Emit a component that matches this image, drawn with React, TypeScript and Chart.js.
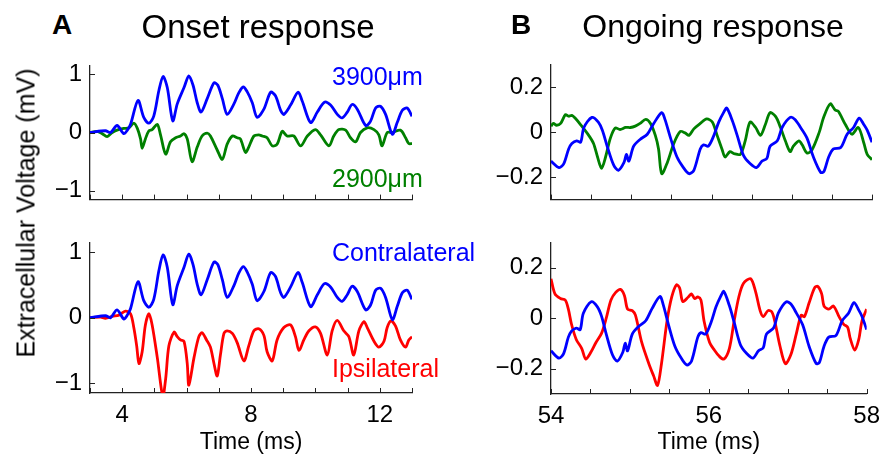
import React, { useEffect, useRef } from 'react';
import { Chart, registerables } from 'chart.js';

Chart.register(...registerables);

type Pt = [number, number];

// ---------- DATA ----------
// Onset response (time in ms, voltage in mV)
const onsetContralateral: Pt[] = [
  [3.0, 0.0], [3.48, 0.03], [3.64, 0.0], [3.84, 0.12], [4.05, -0.02], [4.16, 0.04], [4.26, 0.14],
  [4.49, 0.55], [4.67, 0.26], [4.83, 0.16], [4.98, 0.28], [5.14, 0.72], [5.27, 0.96], [5.40, 0.77],
  [5.57, 0.2], [5.71, 0.49], [5.92, 0.77], [6.07, 0.97], [6.20, 0.81], [6.33, 0.51], [6.45, 0.35],
  [6.64, 0.58], [6.85, 0.85], [6.97, 0.81], [7.11, 0.58], [7.26, 0.31], [7.47, 0.49], [7.62, 0.68],
  [7.76, 0.78], [7.88, 0.70], [8.04, 0.51], [8.19, 0.26], [8.40, 0.40], [8.61, 0.69], [8.76, 0.63],
  [8.92, 0.38], [9.02, 0.31], [9.23, 0.47], [9.46, 0.69], [9.59, 0.54], [9.85, 0.17], [10.06, 0.35],
  [10.28, 0.52], [10.47, 0.47], [10.68, 0.31], [10.83, 0.25], [10.99, 0.35], [11.14, 0.48],
  [11.30, 0.40], [11.56, 0.12], [11.71, 0.19], [11.87, 0.42], [12.02, 0.45], [12.18, 0.31],
  [12.39, -0.03], [12.54, 0.17], [12.70, 0.38], [12.85, 0.42], [13.0, 0.28],
];

const onset2900: Pt[] = [
  [3.0, 0.0], [3.22, 0.02], [3.38, -0.02], [3.53, -0.07], [3.69, 0.0], [3.84, 0.04], [4.05, 0.07],
  [4.21, 0.08], [4.36, 0.16], [4.47, 0.07], [4.57, -0.11], [4.62, -0.27], [4.72, -0.11], [4.83, 0.03],
  [4.93, 0.05], [5.09, 0.14], [5.19, -0.04], [5.35, -0.37], [5.50, -0.16], [5.66, -0.09], [5.81, -0.06],
  [5.92, -0.02], [6.02, -0.11], [6.17, -0.50], [6.33, -0.25], [6.48, -0.06], [6.64, -0.01], [6.74, -0.06],
  [6.95, -0.30], [7.11, -0.46], [7.26, -0.20], [7.42, -0.06], [7.57, -0.09], [7.67, -0.11], [7.83, -0.34],
  [7.93, -0.25], [8.09, -0.06], [8.24, -0.04], [8.35, -0.06], [8.50, -0.09], [8.66, -0.23], [8.81, -0.20],
  [8.97, 0.02], [9.12, -0.06], [9.33, -0.06], [9.54, -0.23], [9.75, -0.06], [10.0, 0.05], [10.16, -0.04],
  [10.42, -0.23], [10.57, -0.06], [10.73, 0.05], [10.94, 0.04], [11.09, -0.09], [11.25, -0.16],
  [11.40, 0.0], [11.61, 0.08], [11.82, 0.05], [11.97, -0.04], [12.07, -0.23], [12.23, 0.0], [12.39, 0.0],
  [12.64, 0.04], [12.80, -0.09], [12.90, -0.19], [13.0, -0.19],
];

const onsetIpsilateral: Pt[] = [
  [3.0, 0.0], [3.33, 0.01], [3.48, -0.01], [3.69, 0.02], [3.90, 0.04], [4.10, 0.10], [4.26, 0.06],
  [4.36, -0.15], [4.45, -0.43], [4.52, -0.70], [4.62, -0.52], [4.72, -0.11], [4.83, 0.06], [4.93, -0.11],
  [5.09, -0.61], [5.26, -1.2], [5.35, -0.93], [5.45, -0.43], [5.61, -0.22], [5.71, -0.29], [5.81, -0.34],
  [5.92, -0.36], [6.02, -0.70], [6.07, -1.03], [6.23, -0.61], [6.38, -0.29], [6.48, -0.23], [6.62, -0.34],
  [6.74, -0.45], [6.85, -0.70], [6.95, -0.89], [7.05, -0.57], [7.16, -0.24], [7.26, -0.20], [7.42, -0.24],
  [7.57, -0.38], [7.78, -0.66], [7.93, -0.43], [8.09, -0.20], [8.24, -0.17], [8.40, -0.27], [8.50, -0.52],
  [8.66, -0.66], [8.81, -0.34], [9.02, -0.15], [9.23, -0.11], [9.38, -0.29], [9.49, -0.50], [9.64, -0.34],
  [9.80, -0.20], [10.0, -0.14], [10.16, -0.24], [10.37, -0.57], [10.52, -0.20], [10.68, -0.04],
  [10.88, -0.20], [11.04, -0.29], [11.19, -0.57], [11.35, -0.20], [11.51, -0.06], [11.61, -0.15],
  [11.82, -0.36], [11.97, -0.45], [12.13, -0.36], [12.23, -0.15], [12.35, -0.05], [12.49, -0.13],
  [12.64, -0.34], [12.80, -0.45], [12.90, -0.34], [13.0, -0.29],
];

// Ongoing response
const ongoingContralateral: Pt[] = [
  [54.0, -0.129], [54.10, -0.158], [54.16, -0.140], [54.22, -0.075], [54.26, -0.051], [54.32, -0.039],
  [54.37, -0.045], [54.41, 0.020], [54.51, 0.065], [54.59, 0.044], [54.64, 0.008], [54.70, -0.063],
  [54.78, -0.146], [54.84, -0.170], [54.91, -0.135], [54.94, -0.099], [54.97, -0.129], [55.03, -0.063],
  [55.11, -0.033], [55.20, -0.010], [55.28, 0.038], [55.38, 0.086], [55.42, 0.056], [55.49, -0.027],
  [55.57, -0.111], [55.65, -0.158], [55.72, -0.185], [55.78, -0.170], [55.86, -0.075], [55.90, -0.057],
  [55.96, -0.063], [56.03, -0.015], [56.09, 0.044], [56.15, 0.086], [56.19, 0.106], [56.26, 0.050],
  [56.32, -0.015], [56.40, -0.105], [56.48, -0.140], [56.56, -0.158], [56.63, -0.129], [56.69, -0.117],
  [56.73, -0.063], [56.82, -0.039], [56.88, 0.020], [56.98, 0.065], [57.04, 0.056], [57.11, 0.020],
  [57.19, -0.027], [57.27, -0.111], [57.36, -0.179], [57.40, -0.176], [57.46, -0.111], [57.52, -0.075],
  [57.61, -0.069], [57.69, -0.010], [57.77, 0.020], [57.84, 0.062], [57.90, 0.032], [57.94, 0.008],
  [58.0, -0.045],
];

const ongoing2900: Pt[] = [
  [54.0, 0.026], [54.03, 0.038], [54.07, 0.030], [54.12, 0.038], [54.18, 0.077], [54.22, 0.070],
  [54.26, 0.074], [54.30, 0.062], [54.37, 0.032], [54.47, -0.015], [54.53, -0.051], [54.58, -0.111],
  [54.63, -0.161], [54.68, -0.111], [54.74, -0.027], [54.80, 0.018], [54.86, 0.011], [54.93, 0.020],
  [54.99, 0.020], [55.05, 0.026], [55.11, 0.038], [55.18, 0.056], [55.24, 0.038], [55.30, -0.015],
  [55.34, -0.075], [55.38, -0.185], [55.45, -0.135], [55.53, -0.051], [55.61, 0.002], [55.67, -0.004],
  [55.72, -0.015], [55.78, 0.014], [55.86, 0.038], [55.94, 0.058], [56.01, 0.044], [56.07, -0.015],
  [56.13, -0.075], [56.17, -0.111], [56.23, -0.087], [56.28, -0.096], [56.36, -0.099], [56.42, -0.039],
  [56.48, 0.044], [56.55, 0.020], [56.61, -0.015], [56.67, 0.032], [56.73, 0.086], [56.80, 0.068],
  [56.86, 0.020], [56.92, -0.039], [56.98, -0.087], [57.02, -0.063], [57.09, -0.039], [57.13, -0.057],
  [57.19, -0.093], [57.25, -0.081], [57.34, -0.004], [57.40, 0.068], [57.48, 0.125], [57.54, 0.098],
  [57.58, 0.092], [57.67, 0.032], [57.75, -0.010], [57.83, 0.020], [57.90, -0.051], [57.94, -0.099],
  [58.0, -0.123],
];

const ongoingIpsilateral: Pt[] = [
  [54.0, 0.156], [54.05, 0.096], [54.12, 0.078], [54.18, 0.072], [54.22, 0.036], [54.26, -0.024],
  [54.32, -0.084], [54.39, -0.120], [54.44, -0.162], [54.51, -0.132], [54.57, -0.096], [54.64, -0.060],
  [54.70, 0.0], [54.76, 0.072], [54.82, 0.102], [54.88, 0.114], [54.93, 0.090], [54.97, 0.036],
  [55.03, 0.030], [55.07, 0.012], [55.15, -0.096], [55.24, -0.180], [55.30, -0.228], [55.35, -0.266],
  [55.40, -0.180], [55.47, -0.012], [55.53, 0.084], [55.59, 0.132], [55.63, 0.120], [55.67, 0.066],
  [55.74, 0.084], [55.78, 0.096], [55.82, 0.078], [55.86, 0.084], [55.90, 0.072], [55.94, -0.012],
  [56.01, -0.096], [56.07, -0.126], [56.13, -0.150], [56.19, -0.162], [56.26, -0.120], [56.32, -0.012],
  [56.38, 0.084], [56.44, 0.138], [56.53, 0.156], [56.59, 0.108], [56.65, 0.030], [56.69, 0.006],
  [56.75, 0.030], [56.80, 0.024], [56.84, -0.018], [56.90, -0.108], [56.97, -0.180], [57.04, -0.144],
  [57.11, -0.060], [57.17, 0.012], [57.21, 0.006], [57.27, 0.060], [57.34, 0.120], [57.38, 0.126],
  [57.43, 0.096], [57.46, 0.048], [57.52, 0.036], [57.58, 0.048], [57.65, 0.006], [57.71, -0.024],
  [57.76, -0.036], [57.79, -0.078], [57.85, -0.126], [57.90, -0.084], [57.94, -0.012], [58.0, 0.036],
];

// Axis ranges and ticks
const onsetXRange = [3, 13];
const onsetXTicks = [3, 4, 5, 6, 7, 8, 9, 10, 11, 12, 13];
const onsetXLabels = [4, 8, 12];
const onsetYRange = [-1.15, 1.15];
const onsetYTicks = [-1, 0, 1];

const ongoingXRange = [54, 58];
const ongoingXTicks = [54, 54.5, 55, 55.5, 56, 56.5, 57, 57.5, 58];
const ongoingXLabels = [54, 56, 58];
const ongoingYRange = [-0.3, 0.3];
const ongoingYTicks = [-0.2, 0, 0.2];

// ---------- STYLE ----------
const BLUE = '#0000ff';
const GREEN = '#008000';
const RED = '#ff0000';
const FONT = '"Liberation Sans", Arial, Helvetica, sans-serif';
const TICK_SIZE = 24;

const fmt = (v: number) => (v < 0 ? '\u2212' + String(-v) : String(v));

const inwardTicks = {
  id: 'inwardTicks',
  afterDraw(chart: any) {
    const { ctx, chartArea: a, scales } = chart;
    ctx.save();
    ctx.strokeStyle = '#222';
    ctx.lineWidth = 1;
    const len = 5;
    for (const t of scales.x.ticks) {
      const px = Math.round(scales.x.getPixelForValue(t.value)) + 0.5;
      ctx.beginPath();
      ctx.moveTo(px, a.bottom);
      ctx.lineTo(px, a.bottom - len);
      ctx.stroke();
    }
    for (const t of scales.y.ticks) {
      const py = Math.round(scales.y.getPixelForValue(t.value)) + 0.5;
      ctx.beginPath();
      ctx.moveTo(a.left, py);
      ctx.lineTo(a.left + len, py);
      ctx.stroke();
    }
    ctx.restore();
  },
};

interface PanelProps {
  left: number; top: number; w: number; h: number;
  padL: number; padT: number; padR: number; padB: number;
  xRange: number[]; xTicks: number[]; xLabels: number[];
  yRange: number[]; yTicks: number[];
  series: { data: Pt[]; color: string }[];
  showX: boolean;
}

function Panel(p: PanelProps) {
  const ref = useRef<HTMLCanvasElement>(null);
  const cw = p.padL + p.w + p.padR;
  const ch = p.padT + p.h + p.padB;
  useEffect(() => {
    const chart = new Chart(ref.current!, {
      type: 'line',
      data: {
        datasets: p.series.map((s) => ({
          data: s.data.map(([x, y]) => ({ x, y })),
          borderColor: s.color,
          borderWidth: 2.8,
          pointRadius: 0,
          tension: 0.3,
          fill: false,
        })),
      },
      options: {
        animation: false,
        responsive: false,
        maintainAspectRatio: false,
        events: [],
        layout: { padding: { left: 0, top: p.padT, right: p.padR, bottom: 0 } },
        plugins: { legend: { display: false }, tooltip: { enabled: false } },
        scales: {
          x: {
            type: 'linear',
            min: p.xRange[0],
            max: p.xRange[1],
            grid: { display: false, drawTicks: false },
            border: { display: true, color: '#222', width: 1.3 },
            ticks: {
              display: p.showX,
              color: '#000',
              font: { family: FONT, size: TICK_SIZE },
              padding: 8,
              autoSkip: false,
              maxRotation: 0,
              callback: (v: any) => (p.xLabels.includes(Number(v)) ? fmt(Number(v)) : ''),
            },
            title: {
              display: p.showX,
              text: 'Time (ms)',
              color: '#000',
              font: { family: FONT, size: 23 },
              padding: { top: 0, bottom: 9 },
            },
            afterBuildTicks: (s: any) => {
              s.ticks = p.xTicks.map((v) => ({ value: v }));
            },
            afterFit: (s: any) => {
              s.height = p.padB;
            },
          },
          y: {
            type: 'linear',
            min: p.yRange[0],
            max: p.yRange[1],
            grid: { display: false, drawTicks: false },
            border: { display: true, color: '#222', width: 1.3 },
            ticks: {
              color: '#000',
              font: { family: FONT, size: TICK_SIZE },
              padding: 8,
              callback: (v: any) => fmt(Number(v)),
            },
            afterBuildTicks: (s: any) => {
              s.ticks = p.yTicks.map((v) => ({ value: v }));
            },
            afterFit: (s: any) => {
              s.width = p.padL;
            },
          },
        },
      } as any,
      plugins: [inwardTicks],
    });
    return () => chart.destroy();
  }, []);
  return (
    <canvas
      ref={ref}
      width={cw}
      height={ch}
      style={{ position: 'absolute', left: p.left - p.padL, top: p.top - p.padT, width: cw, height: ch }}
    />
  );
}

function Label(props: { text: string; x: number; cy: number; size: number; color?: string; bold?: boolean; center?: boolean }) {
  const { text, x, cy, size, color = '#000', bold, center } = props;
  return (
    <div
      style={{
        position: 'absolute',
        left: x,
        top: cy - 0.4885 * size,
        fontSize: size,
        lineHeight: `${size}px`,
        fontWeight: bold ? 'bold' : 'normal',
        color,
        whiteSpace: 'nowrap',
        transform: center ? 'translateX(-50%)' : undefined,
        fontFamily: FONT,
      }}
    >
      {text}
    </div>
  );
}

export default function App() {
  return (
    <div
      style={{
        position: 'absolute', left: 0, top: 0, width: 888, height: 465,
        background: '#fff', overflow: 'hidden', fontFamily: FONT,
      }}
    >
      <Panel left={90} top={49} w={322} h={167} padL={50} padT={6} padR={10} padB={6}
        xRange={onsetXRange} xTicks={onsetXTicks} xLabels={onsetXLabels}
        yRange={onsetYRange} yTicks={onsetYTicks} showX={false}
        series={[{ data: onsetContralateral, color: BLUE }, { data: onset2900, color: GREEN }]} />
      <Panel left={90} top={226} w={322} h={167} padL={50} padT={6} padR={10} padB={72}
        xRange={onsetXRange} xTicks={onsetXTicks} xLabels={onsetXLabels}
        yRange={onsetYRange} yTicks={onsetYTicks} showX={true}
        series={[{ data: onsetContralateral, color: BLUE }, { data: onsetIpsilateral, color: RED }]} />
      <Panel left={551} top={48} w={321} h={168} padL={60} padT={6} padR={16} padB={6}
        xRange={ongoingXRange} xTicks={ongoingXTicks} xLabels={ongoingXLabels}
        yRange={ongoingYRange} yTicks={ongoingYTicks} showX={false}
        series={[{ data: ongoingContralateral, color: BLUE }, { data: ongoing2900, color: GREEN }]} />
      <Panel left={551} top={226} w={321} h={168} padL={60} padT={6} padR={16} padB={71}
        xRange={ongoingXRange} xTicks={ongoingXTicks} xLabels={ongoingXLabels}
        yRange={ongoingYRange} yTicks={ongoingYTicks} showX={true}
        series={[{ data: ongoingContralateral, color: BLUE }, { data: ongoingIpsilateral, color: RED }]} />

      <Label text="A" x={62} cy={25} size={28} bold center />
      <Label text="Onset response" x={258} cy={26} size={33} center />
      <Label text="B" x={521} cy={25} size={28} bold center />
      <Label text="Ongoing response" x={713} cy={26} size={32} center />

      <Label text="3900μm" x={332} cy={76} size={25} color={BLUE} />
      <Label text="2900μm" x={332} cy={178} size={25} color={GREEN} />
      <Label text="Contralateral" x={332} cy={252} size={25} color={BLUE} />
      <Label text="Ipsilateral" x={332} cy={368} size={25} color={RED} />

      <div
        style={{
          position: 'absolute', left: 26, top: 213,
          transform: 'translate(-50%, -50%) rotate(-90deg)',
          fontSize: 25, whiteSpace: 'nowrap', fontFamily: FONT, color: '#000',
        }}
      >
        Extracellular Voltage (mV)
      </div>
    </div>
  );
}
